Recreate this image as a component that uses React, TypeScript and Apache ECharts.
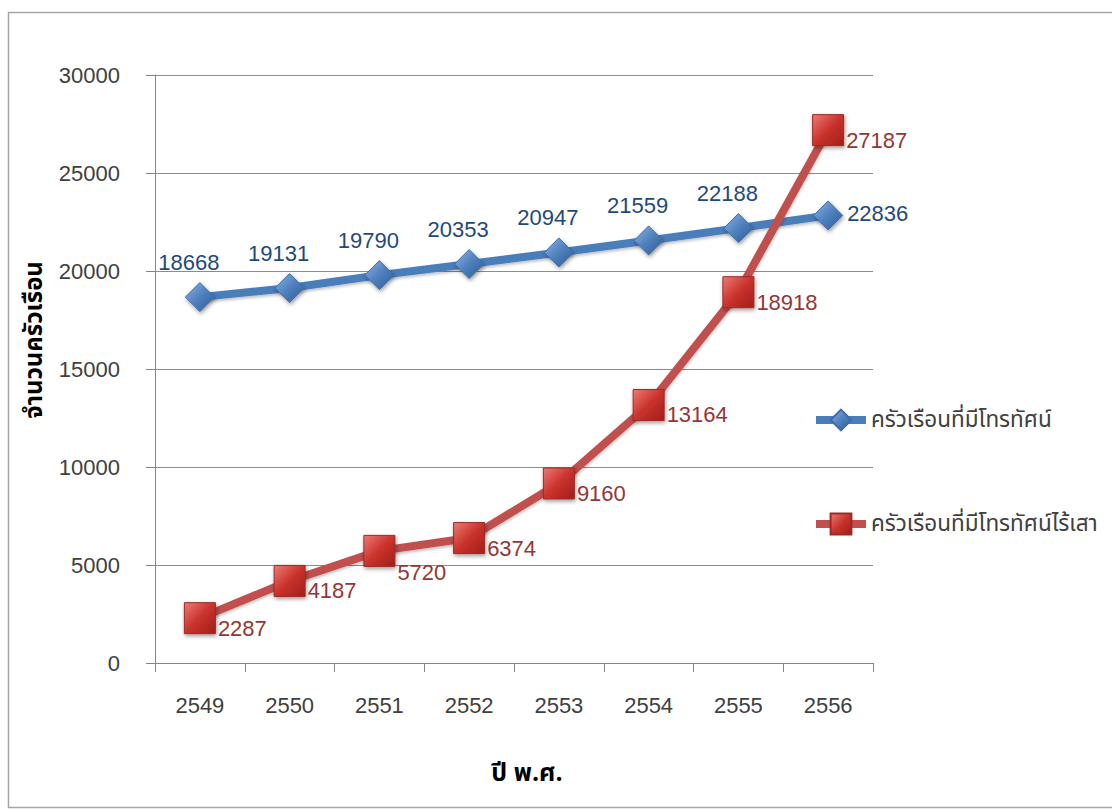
import React, { useEffect, useRef } from "react";
import * as echarts from "echarts";

// Years (Buddhist Era) shown on the category axis
const years = ["2549", "2550", "2551", "2552", "2553", "2554", "2555", "2556"];

// Households with a television
const withTv = [18668, 19131, 19790, 20353, 20947, 21559, 22188, 22836];

// Households with an antenna-free (digital/satellite) television
const withTvNoAntenna = [2287, 4187, 5720, 6374, 9160, 13164, 18918, 27187];

const seriesNames = ["ครัวเรือนที่มีโทรทัศน์", "ครัวเรือนที่มีโทรทัศน์ไร้เสา"];
const yAxisTitle = "จำนวนครัวเรือน";
const xAxisTitle = "ปี พ.ศ.";

const yTicks = { min: 0, max: 30000, interval: 5000 };

const FONT = "'Liberation Sans', Arial, 'DejaVu Sans', sans-serif";
const THAI_FONT = "Tahoma, 'Noto Sans Thai', 'Noto Sans', 'DejaVu Sans', sans-serif";

export default function App() {
  const ref = useRef<HTMLDivElement>(null);

  useEffect(() => {
    if (!ref.current) return;
    const chart = echarts.init(ref.current, null, { renderer: "svg" });

    const blueFill = new echarts.graphic.LinearGradient(0, 0, 1, 1, [
      { offset: 0, color: "#8DB3E8" },
      { offset: 0.5, color: "#4F81BD" },
      { offset: 1, color: "#2C5A94" },
    ]);
    const redFill = new echarts.graphic.LinearGradient(0, 0, 1, 1, [
      { offset: 0, color: "#EE7B76" },
      { offset: 0.5, color: "#C9322C" },
      { offset: 1, color: "#A01F1A" },
    ]);

    const lastIdx = years.length - 1;

    // last point of the TV series gets its label on the right
    const blueData = withTv.map((v, i) =>
      i === lastIdx
        ? { value: v, label: { position: "right", distance: 4, offset: [0, -2] } }
        : v
    );

    // the antenna-free series labels sit below-right of each marker
    const redLabelDy = (i: number) => (i === 2 ? 22 : 10);
    const redData = withTvNoAntenna.map((v, i) => ({
      value: v,
      label: { offset: [0, redLabelDy(i)] },
    }));

    chart.setOption({
      animation: false,
      backgroundColor: "#ffffff",
      grid: { left: 155, right: 239, top: 75, bottom: 147 },
      legend: {
        orient: "vertical",
        left: 812,
        top: 407,
        itemWidth: 50,
        itemHeight: 26,
        itemGap: 78,
        padding: 0,
        lineStyle: { width: 8 },
        textStyle: {
          color: "#404040",
          fontSize: 22.5,
          lineHeight: 26,
          fontFamily: THAI_FONT,
        },
        data: seriesNames,
      },
      xAxis: {
        type: "category",
        data: years,
        boundaryGap: true,
        axisLine: { lineStyle: { color: "#868686", width: 1 } },
        axisTick: { show: true, alignWithLabel: false, length: 9, lineStyle: { color: "#868686" } },
        axisLabel: { color: "#404040", fontSize: 22, fontFamily: FONT, margin: 31 },
        splitLine: { show: false },
      },
      yAxis: {
        type: "value",
        min: yTicks.min,
        max: yTicks.max,
        interval: yTicks.interval,
        axisLine: { show: true, lineStyle: { color: "#868686", width: 1 } },
        axisTick: { show: true, length: 9, lineStyle: { color: "#868686" } },
        axisLabel: {
          color: "#404040",
          fontSize: 22,
          fontFamily: FONT,
          margin: 35,
          formatter: (v: number) => String(v),
        },
        splitLine: { show: true, lineStyle: { color: "#8C8C8C", width: 1 } },
      },
      graphic: [
        {
          type: "rect",
          silent: true,
          z: -10,
          shape: { x: 8.5, y: 12.5, width: 1300, height: 795 },
          style: { fill: "none", stroke: "#A6A6A6", lineWidth: 1.5 },
        },
        {
          type: "text",
          x: 35,
          y: 340,
          rotation: Math.PI / 2,
          style: {
            text: yAxisTitle,
            fill: "#000000",
            font: `bold 24px ${THAI_FONT}`,
            align: "center",
            verticalAlign: "middle",
          },
        },
        {
          type: "text",
          x: 527,
          y: 773,
          style: {
            text: xAxisTitle,
            fill: "#000000",
            font: `bold 25px ${THAI_FONT}`,
            align: "center",
            verticalAlign: "middle",
          },
        },
      ],
      series: [
        {
          name: seriesNames[0],
          type: "line",
          data: blueData,
          symbol: "diamond",
          symbolSize: 29,
          lineStyle: {
            color: "#4A7EBB",
            width: 8,
            shadowColor: "rgba(0,0,0,0.25)",
            shadowBlur: 3,
            shadowOffsetY: 2,
          },
          itemStyle: {
            color: blueFill,
            borderColor: "#3D6EAA",
            borderWidth: 1,
            shadowColor: "rgba(0,0,0,0.4)",
            shadowBlur: 4,
            shadowOffsetX: 1,
            shadowOffsetY: 2,
          },
          label: {
            show: true,
            position: "top",
            distance: 9,
            offset: [-11, 0],
            color: "#1F497D",
            fontSize: 22,
            fontFamily: FONT,
          },
          z: 2,
        },
        {
          name: seriesNames[1],
          type: "line",
          data: redData,
          symbol: "rect",
          symbolSize: 31,
          lineStyle: {
            color: "#C0504D",
            width: 8,
            shadowColor: "rgba(0,0,0,0.25)",
            shadowBlur: 3,
            shadowOffsetY: 2,
          },
          itemStyle: {
            color: redFill,
            borderColor: "#9B2A25",
            borderWidth: 1,
            shadowColor: "rgba(0,0,0,0.4)",
            shadowBlur: 4,
            shadowOffsetX: 1,
            shadowOffsetY: 2,
          },
          label: {
            show: true,
            position: "right",
            distance: 2,
            color: "#943634",
            fontSize: 22,
            fontFamily: FONT,
          },
          z: 3,
        },
      ],
    });

    return () => chart.dispose();
  }, []);

  return (
    <div
      ref={ref}
      style={{ position: "fixed", left: 0, top: 0, width: 1112, height: 810, background: "#ffffff" }}
    />
  );
}
